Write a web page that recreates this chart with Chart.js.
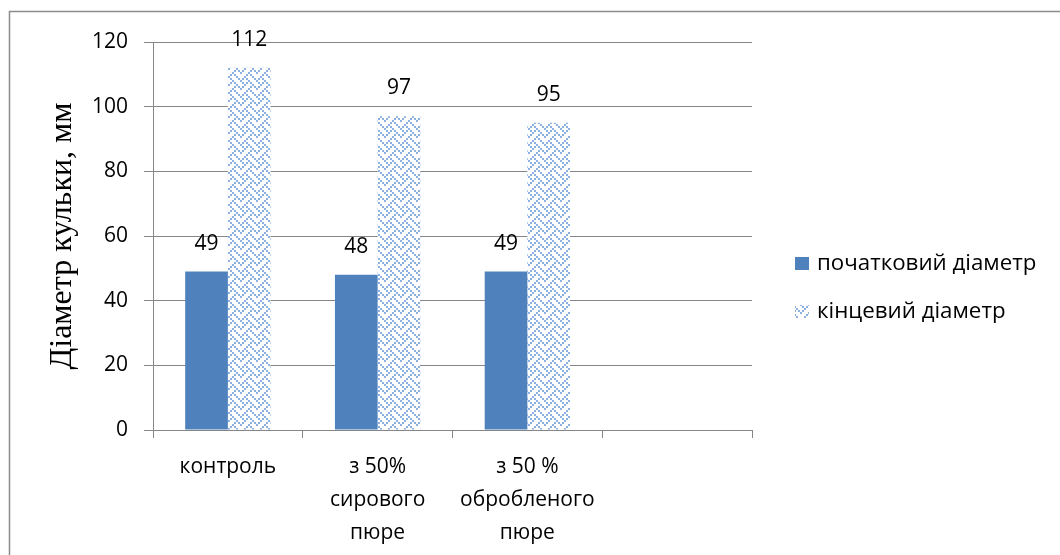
<!DOCTYPE html>
<html><head><meta charset="utf-8">
<script src="https://cdn.jsdelivr.net/npm/chart.js@4.4.0/dist/chart.umd.min.js"></script>
<style>html,body{margin:0;padding:0;background:#fff}#wrap{position:relative;width:1060px;height:555px}</style>
</head><body><div id="wrap"><canvas id="c" width="1060" height="555"></canvas></div>
<script>
// Ball diameter before and after, per dough sample
const categories = ['контроль', ['з 50%', 'сирового', 'пюре'], ['з 50 %', 'обробленого', 'пюре'], ''];
const initialDiameter = [49, 48, 49, null];
const finalDiameter = [112, 97, 95, null];
const seriesNames = ['початковий діаметр', 'кінцевий діаметр'];
const yTicks = [0, 20, 40, 60, 80, 100, 120];
const yTitle = 'Діаметр кульки, мм';

const SANS = '"Open Sans", "Noto Sans", sans-serif';
const BLUE = '#4f81bd';
const HATCH = '#8cb0df';
const GRID = '#868686';

// 8x8 weave bitmap, one byte per row, leftmost pixel in the high bit
const WEAVE_ROWS = [0x88, 0x54, 0x22, 0x45, 0x88, 0x14, 0x22, 0x51];

function makeWeave(scale) {
  const n = 8 * scale;
  const t = document.createElement('canvas');
  t.width = n; t.height = n;
  const g = t.getContext('2d');
  g.fillStyle = '#fff';
  g.fillRect(0, 0, n, n);
  g.fillStyle = HATCH;
  WEAVE_ROWS.forEach((bits, y) => {
    for (let x = 0; x < 8; x++) {
      if (bits & (0x80 >> x)) g.fillRect(x * scale, y * scale, scale, scale);
    }
  });
  return g.createPattern(t, 'repeat');
}

const ctx = document.getElementById('c').getContext('2d');
const weave = makeWeave(2);

const valueLabels = {
  id: 'valueLabels',
  afterDatasetsDraw(chart) {
    const c = chart.ctx;
    c.save();
    c.font = '21px ' + SANS;
    c.fillStyle = '#000';
    c.textAlign = 'center';
    c.textBaseline = 'middle';
    chart.data.datasets.forEach((ds, i) => {
      chart.getDatasetMeta(i).data.forEach((el, j) => {
        const v = ds.data[j];
        if (v == null) return;
        c.fillText(String(v), el.x, el.y - 28);
      });
    });
    c.restore();
  }
};

const frameAndLegend = {
  id: 'frameAndLegend',
  afterDraw(chart) {
    const c = chart.ctx;
    c.save();
    c.strokeStyle = '#8c8c8c';
    c.lineWidth = 1.5;
    c.beginPath();
    c.moveTo(9.5, 600);
    c.lineTo(9.5, 11.5);
    c.lineTo(1100, 11.5);
    c.stroke();

    const fills = [BLUE, weave];
    const rows = [264, 312];
    c.font = '22.3px ' + SANS;
    c.textBaseline = 'middle';
    c.textAlign = 'left';
    seriesNames.forEach((name, i) => {
      c.fillStyle = fills[i];
      c.fillRect(795, rows[i] - 7, 14, 13);
      c.fillStyle = '#000';
      c.fillText(name, 817, rows[i]);
    });
    c.restore();
  }
};

new Chart(ctx, {
  type: 'bar',
  data: {
    labels: categories,
    datasets: [
      { label: seriesNames[0], data: initialDiameter, backgroundColor: BLUE, borderWidth: 0 },
      { label: seriesNames[1], data: finalDiameter, backgroundColor: weave, borderWidth: 0 }
    ]
  },
  options: {
    responsive: false,
    animation: false,
    devicePixelRatio: 1,
    layout: { padding: { left: 0, top: 42, right: 308, bottom: 0 } },
    plugins: { legend: { display: false }, tooltip: { enabled: false } },
    datasets: { bar: { categoryPercentage: 0.57, barPercentage: 1.0 } },
    scales: {
      x: {
        offset: true,
        grid: { offset: true, drawOnChartArea: false, color: GRID, tickLength: 8, lineWidth: 1 },
        border: { color: GRID, width: 1 },
        ticks: { color: '#000', font: { family: SANS, size: 21, lineHeight: 1.58 }, padding: 12, maxRotation: 0, autoSkip: false },
        afterFit(s) { s.height = 125; }
      },
      y: {
        min: 0, max: 120,
        afterBuildTicks(s) { s.ticks = yTicks.map(v => ({ value: v })); },
        grid: { color: GRID, tickLength: 9, lineWidth: 1 },
        border: { color: GRID, width: 1 },
        ticks: { color: '#000', font: { family: SANS, size: 21 }, padding: 16 },
        title: { display: true, text: yTitle, color: '#000', font: { family: '"Liberation Serif", "DejaVu Serif", serif', size: 32 }, padding: { top: 43, bottom: 0 } },
        afterFit(s) { s.width = 153; }
      }
    }
  },
  plugins: [valueLabels, frameAndLegend]
});
</script>
</body></html>
